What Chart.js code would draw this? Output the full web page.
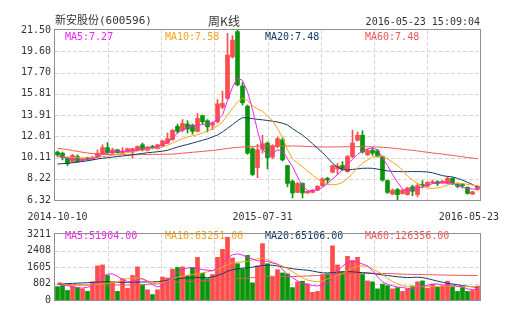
<!DOCTYPE html>
<html>
<head>
<meta charset="utf-8">
<title>新安股份 周K线</title>
<script src="https://cdn.jsdelivr.net/npm/chart.js@4.4.0/dist/chart.umd.min.js"></script>
<style>
  html, body { margin: 0; padding: 0; background: #fff; }
  #wrap { position: relative; width: 505px; height: 330px; overflow: hidden; }
  #kline { position: absolute; left: 0; top: 0; }
  #vol { position: absolute; left: 0; top: 224px; }
</style>
</head>
<body>
<div id="wrap">
  <canvas id="kline" width="505" height="224"></canvas>
  <canvas id="vol" width="505" height="106"></canvas>
</div>
<script>
// weekly candles, 2014-10-10 .. 2016-05-23
var opens = [10.6, 10.5, 10.1, 9.75, 10.2, 9.85, 10.1, 9.95, 10.15, 10.45,
  11.0, 10.5, 10.8, 10.5, 10.65, 10.6, 10.75, 11.25, 10.75, 11.1,
  10.9, 11.15, 11.4, 11.7, 12.9, 12.55, 13.1, 13.0, 12.45, 13.85,
  13.4, 13.0, 13.3, 14.6, 15.4, 19.1, 21.35, 16.5, 14.7, 10.9,
  9.2, 10.85, 11.4, 10.15, 11.1, 11.7, 9.4, 8.0, 7.0, 7.8,
  6.95, 7.0, 7.2, 7.6, 8.25, 8.8, 9.1, 9.4, 8.85, 10.2,
  11.65, 12.1, 10.35, 10.75, 10.7, 10.2, 8.05, 6.85, 7.25, 6.9,
  6.8, 7.5, 6.8, 7.7, 7.55, 7.85, 7.95, 7.85, 7.8, 8.25,
  7.7, 7.7, 7.45, 6.85, 7.27];
var highs = [10.7, 10.6, 10.15, 10.4, 10.35, 10.05, 10.15, 10.2, 10.8, 11.25,
  11.45, 10.95, 10.85, 11.0, 10.95, 10.95, 11.15, 11.4, 11.1, 11.2,
  11.3, 11.65, 12.3, 12.6, 13.1, 13.5, 13.4, 13.1, 14.05, 13.9,
  13.5, 13.3, 15.3, 16.05, 21.2, 21.0, 21.5, 16.8, 14.8, 11.0,
  11.3, 12.1, 11.5, 11.25, 11.95, 11.9, 9.4, 8.1, 7.9, 7.85,
  7.15, 7.25, 7.6, 8.3, 8.35, 9.45, 9.6, 9.75, 10.3, 12.55,
  12.4, 12.5, 10.85, 11.0, 10.85, 10.25, 8.1, 7.3, 7.35, 7.25,
  7.45, 7.65, 7.8, 8.05, 7.95, 8.1, 8.05, 8.05, 8.45, 8.3,
  7.85, 7.8, 7.5, 7.1, 7.6];
var lows = [10.2, 9.9, 9.4, 9.7, 9.7, 9.75, 9.85, 9.9, 10.1, 10.4,
  10.45, 10.45, 10.5, 10.45, 10.6, 10.05, 10.7, 10.7, 10.7, 10.9,
  10.85, 11.1, 11.35, 11.65, 12.3, 12.4, 12.3, 12.2, 12.4, 13.1,
  12.4, 12.6, 13.2, 14.45, 15.3, 19.0, 16.5, 14.8, 10.4, 8.5,
  8.3, 10.5, 9.1, 10.0, 11.0, 9.8, 7.5, 6.5, 6.95, 6.5,
  6.9, 6.95, 7.15, 7.55, 7.8, 8.75, 8.6, 8.95, 8.8, 10.1,
  11.6, 10.5, 10.3, 10.3, 10.15, 8.0, 6.9, 6.8, 6.32, 6.85,
  6.75, 6.7, 6.6, 7.4, 7.5, 7.8, 7.6, 7.8, 7.75, 7.7,
  7.4, 7.4, 6.85, 6.8, 7.2];
var closes = [10.35, 10.1, 9.55, 10.3, 9.75, 10.0, 9.95, 10.15, 10.5, 11.0,
  10.55, 10.8, 10.55, 10.65, 10.9, 10.9, 11.1, 10.8, 11.05, 11.0,
  11.25, 11.6, 11.8, 12.55, 12.45, 13.15, 12.65, 12.45, 13.6, 13.3,
  12.85, 13.2, 14.9, 14.95, 19.27, 20.6, 16.6, 15.0, 10.5, 8.6,
  10.8, 11.35, 10.1, 11.15, 11.8, 9.9, 7.8, 6.95, 7.8, 6.95,
  7.1, 7.2, 7.55, 8.2, 8.1, 9.38, 9.35, 9.05, 10.2, 11.4,
  12.1, 10.6, 10.75, 10.5, 10.2, 8.1, 7.0, 7.2, 6.8, 7.2,
  7.4, 7.1, 7.6, 7.6, 7.9, 7.95, 7.8, 8.0, 8.25, 7.75,
  7.55, 7.6, 6.9, 7.05, 7.55];

var ma5 = [10.25, 10.20, 10.05, 9.95, 9.90, 9.88, 9.95, 10.00, 10.15, 10.40,
  10.55, 10.62, 10.65, 10.68, 10.70, 10.72, 10.80, 10.88, 10.92, 11.00,
  11.10, 11.25, 11.45, 11.85, 12.30, 12.60, 12.80, 12.90, 12.98, 13.05,
  13.10, 13.20, 13.50, 13.90, 15.20, 16.40, 17.20, 17.00, 16.00, 14.40,
  12.50, 10.90, 10.30, 10.50, 10.80, 10.70, 10.00, 9.30, 8.40, 7.60,
  7.15, 7.10, 7.25, 7.45, 7.80, 8.20, 8.60, 9.00, 9.50, 9.95,
  10.40, 10.70, 10.90, 10.95, 10.80, 10.10, 9.40, 8.60, 7.90, 7.30,
  7.15, 7.25, 7.35, 7.50, 7.65, 7.78, 7.82, 7.85, 7.88, 7.85,
  7.60, 7.45, 7.35, 7.30, 7.27];
var ma10 = [10.19, 10.17, 10.14, 10.12, 10.10, 10.08, 10.08, 10.10, 10.15, 10.20,
  10.25, 10.32, 10.40, 10.47, 10.55, 10.62, 10.70, 10.78, 10.84, 10.90,
  10.95, 11.05, 11.20, 11.40, 11.60, 11.80, 11.95, 12.05, 12.15, 12.30,
  12.50, 12.70, 12.95, 13.30, 13.90, 14.50, 15.10, 15.40, 15.20, 14.75,
  14.45, 14.25, 13.80, 13.40, 12.70, 11.90, 10.80, 10.00, 9.60, 9.30,
  8.90, 8.55, 8.20, 7.90, 7.70, 7.68, 7.72, 7.90, 8.25, 8.70,
  9.20, 9.60, 9.90, 10.15, 10.25, 10.20, 10.00, 9.70, 9.40, 9.00,
  8.45, 8.10, 7.80, 7.55, 7.38, 7.36, 7.40, 7.50, 7.65, 7.78,
  7.80, 7.78, 7.72, 7.65, 7.58];
var ma20 = [9.53, 9.57, 9.60, 9.65, 9.70, 9.76, 9.82, 9.90, 9.98, 10.05,
  10.10, 10.15, 10.20, 10.25, 10.30, 10.36, 10.42, 10.48, 10.54, 10.58,
  10.63, 10.68, 10.76, 10.90, 11.05, 11.17, 11.28, 11.40, 11.53, 11.65,
  11.78, 11.95, 12.12, 12.40, 12.72, 13.05, 13.40, 13.68, 13.65, 13.58,
  13.52, 13.48, 13.42, 13.36, 13.28, 13.18, 13.02, 12.70, 12.40, 12.12,
  11.75, 11.35, 10.95, 10.55, 10.10, 9.60, 9.25, 9.05, 9.00, 9.05,
  9.10, 9.15, 9.16, 9.15, 9.08, 9.00, 8.92, 8.88, 8.86, 8.85,
  8.85, 8.86, 8.86, 8.85, 8.82, 8.75, 8.62, 8.50, 8.42, 8.38,
  8.25, 8.10, 7.90, 7.70, 7.48];
var ma60 = [10.94, 10.88, 10.82, 10.74, 10.66, 10.58, 10.52, 10.46, 10.42, 10.40,
  10.38, 10.37, 10.36, 10.36, 10.36, 10.36, 10.37, 10.38, 10.38, 10.39,
  10.40, 10.40, 10.41, 10.42, 10.45, 10.50, 10.54, 10.58, 10.62, 10.66,
  10.70, 10.75, 10.80, 10.86, 10.92, 10.98, 11.02, 11.05, 11.08, 11.10,
  11.12, 11.14, 11.14, 11.14, 11.14, 11.14, 11.14, 11.14, 11.14, 11.12,
  11.10, 11.08, 11.06, 11.05, 11.05, 11.06, 11.06, 11.07, 11.07, 11.08,
  11.08, 11.08, 11.08, 11.07, 11.05, 11.03, 11.00, 10.95, 10.90, 10.86,
  10.80, 10.76, 10.70, 10.64, 10.58, 10.52, 10.47, 10.42, 10.36, 10.30,
  10.24, 10.18, 10.12, 10.06, 10.00];

var volumes = [651, 698, 465, 682, 604, 543, 419, 884, 1660, 1706,
  1194, 884, 419, 1039, 574, 1194, 1613, 729, 496, 264,
  496, 1116, 1070, 1504, 1581, 1613, 1194, 1581, 2077, 1302,
  1039, 1240, 2077, 2464, 3050, 2046, 1767, 1504, 2170, 837,
  1660, 2743, 1767, 1116, 1473, 1318, 1271, 604, 884, 915,
  775, 372, 419, 1240, 1271, 2635, 1706, 1380, 2124, 1922,
  2077, 1240, 930, 884, 543, 775, 698, 543, 604, 419,
  527, 682, 884, 930, 574, 775, 620, 682, 915, 651,
  419, 604, 419, 465, 682];
var volMa5 = [760, 730, 700, 640, 590, 580, 620, 680, 960, 1150,
  1260, 1270, 1150, 1000, 900, 880, 1000, 1040, 900, 760,
  640, 700, 920, 1150, 1350, 1480, 1560, 1580, 1520, 1480,
  1450, 1430, 1550, 1780, 2050, 2200, 2250, 2180, 2080, 2000,
  1900, 1900, 1880, 1800, 1740, 1500, 1250, 1080, 930, 800,
  780, 700, 680, 740, 810, 1110, 1400, 1650, 1820, 1890,
  1830, 1750, 1660, 1430, 1130, 875, 765, 690, 630, 610,
  560, 550, 620, 680, 720, 770, 780, 730, 730, 730,
  660, 640, 540, 510, 520];
var volMa10 = [880, 820, 720, 690, 690, 700, 720, 740, 760, 790,
  810, 850, 890, 960, 1040, 1060, 1070, 1020, 930, 870,
  810, 850, 920, 1010, 1110, 1160, 1200, 1240, 1270, 1320,
  1370, 1420, 1500, 1600, 1720, 1810, 1840, 1850, 1880, 1950,
  2000, 2040, 1950, 1850, 1750, 1650, 1520, 1380, 1220, 1080,
  970, 920, 890, 920, 1030, 1100, 1200, 1300, 1420, 1550,
  1650, 1660, 1630, 1520, 1380, 1250, 1050, 900, 780, 700,
  650, 640, 640, 645, 650, 655, 665, 675, 680, 680,
  670, 660, 655, 650, 650];
var volMa20 = [780, 790, 800, 810, 820, 830, 840, 860, 880, 880,
  880, 870, 865, 860, 860, 865, 870, 875, 880, 885,
  890, 920, 960, 1000, 1040, 1060, 1075, 1085, 1090, 1090,
  1090, 1120, 1190, 1280, 1400, 1470, 1520, 1550, 1560, 1600,
  1640, 1680, 1700, 1690, 1660, 1610, 1560, 1520, 1490, 1470,
  1450, 1410, 1360, 1320, 1320, 1330, 1350, 1370, 1380, 1370,
  1350, 1330, 1320, 1290, 1250, 1220, 1190, 1160, 1130, 1110,
  1090, 1100, 1110, 1090, 1040, 980, 920, 860, 810, 780,
  740, 700, 670, 640, 620];
var volMa60 = [760, 755, 750, 745, 740, 735, 732, 730, 730, 730,
  730, 730, 730, 730, 730, 730, 730, 740, 760, 780,
  800, 820, 840, 860, 880, 890, 900, 910, 920, 930,
  940, 955, 975, 1000, 1020, 1040, 1045, 1050, 1070, 1090,
  1110, 1130, 1160, 1160, 1150, 1140, 1130, 1140, 1150, 1160,
  1170, 1180, 1190, 1210, 1225, 1240, 1250, 1260, 1270, 1280,
  1290, 1295, 1300, 1300, 1295, 1290, 1285, 1280, 1270, 1260,
  1250, 1245, 1240, 1235, 1230, 1225, 1220, 1215, 1210, 1205,
  1200, 1200, 1195, 1195, 1195];

var priceTicks = [6.32, 8.22, 10.11, 12.01, 13.91, 15.81, 17.70, 19.60, 21.50];
var volTicks = [0, 802, 1605, 2408, 3211];
var dateLabels = ['2014-10-10', '2015-07-31', '2016-05-23'];
var dateIndex = [0, 41, 84];
var maText = ['MA5:7.27', 'MA10:7.58', 'MA20:7.48', 'MA60:7.48'];
var volMaText = ['MA5:51904.00', 'MA10:63251.00', 'MA20:65106.00', 'MA60:126356.00'];

var maColors = ['#ee22ee', '#f7a21b', '#113a66', '#f25555'];
var upColor = '#ff4d4d';
var downColor = '#0a950a';
var mono = '"DejaVu Sans Mono", monospace';

document.addEventListener('DOMContentLoaded', function() {
  var weeks = opens.map(function(o, i) { return 'w' + i; });
  var candleColors = opens.map(function(o, i) { return closes[i] >= o ? upColor : downColor; });

  function maLine(label, data, color) {
    return {
      type: 'line', label: label, data: data,
      borderColor: color, borderWidth: 1, pointRadius: 0,
      tension: 0, fill: false, order: 0
    };
  }

  // dashed grid, MA legend (under the marks) and the grey frame (over them)
  function panelPlugin(ticks, legend, legendY) {
    return {
      id: 'panel',
      beforeDatasetsDraw: function(chart) {
        var ctx = chart.ctx, a = chart.chartArea, ys = chart.scales.y;
        ctx.save();
        ctx.strokeStyle = '#d8d8d8';
        ctx.lineWidth = 1;
        ctx.setLineDash([4, 2]);
        ticks.slice(1, -1).forEach(function(v) {
          var py = Math.round(ys.getPixelForValue(v)) + 0.5;
          ctx.beginPath(); ctx.moveTo(a.left, py); ctx.lineTo(a.right, py); ctx.stroke();
        });
        var step = (a.right - a.left) / 8;
        for (var k = 1; k < 8; k++) {
          var px = Math.round(a.left + k * step) + 0.5;
          ctx.beginPath(); ctx.moveTo(px, a.top); ctx.lineTo(px, a.bottom); ctx.stroke();
        }
        ctx.setLineDash([]);
        ctx.font = '10px ' + mono;
        ctx.textBaseline = 'middle';
        ctx.textAlign = 'left';
        legend.forEach(function(t, i) {
          ctx.fillStyle = maColors[i];
          ctx.fillText(t, a.left + 10 + i * 100, legendY);
        });
        ctx.restore();
      },
      afterDatasetsDraw: function(chart) {
        var ctx = chart.ctx, a = chart.chartArea;
        ctx.save();
        ctx.strokeStyle = '#8f8f8f';
        ctx.lineWidth = 1;
        ctx.strokeRect(a.left - 0.5, a.top - 0.5, a.right - a.left + 1, a.bottom - a.top + 1);
        ctx.restore();
      }
    };
  }

  var headerPlugin = {
    id: 'header',
    afterDraw: function(chart) {
      var ctx = chart.ctx, xs = chart.scales.x;
      ctx.save();
      ctx.fillStyle = '#333';
      ctx.textBaseline = 'middle';
      ctx.textAlign = 'left';
      ctx.font = '11px "DejaVu Sans Mono", "Noto Sans CJK SC", monospace';
      ctx.fillText('新安股份(600596)', 55, 21);
      ctx.textAlign = 'center';
      ctx.font = '12px "Noto Sans CJK SC", sans-serif';
      ctx.fillText('周K线', 224, 21);
      ctx.textAlign = 'right';
      ctx.font = '10px ' + mono;
      ctx.fillText('2016-05-23 15:09:04', 480, 22);

      ctx.textAlign = 'center';
      dateLabels.forEach(function(t, i) {
        var w = ctx.measureText(t).width;
        var px = Math.min(xs.getPixelForValue(dateIndex[i]), chart.width - 6 - w / 2);
        ctx.fillText(t, px, 217);
      });
      ctx.restore();
    }
  };

  function yAxis(min, max, ticks, fmt) {
    return {
      type: 'linear', min: min, max: max,
      afterBuildTicks: function(s) {
        s.ticks = ticks.map(function(v) { return { value: v }; });
      },
      afterFit: function(s) { s.width = 55; },
      ticks: {
        autoSkip: false, padding: 4, color: '#333',
        font: { family: mono, size: 10 },
        callback: fmt
      },
      grid: { display: false, drawTicks: false },
      border: { display: false }
    };
  }

  var xAxis = { type: 'category', display: false, offset: true };

  new Chart(document.getElementById('kline'), {
    data: {
      labels: weeks,
      datasets: [
        maLine('MA5', ma5, maColors[0]),
        maLine('MA10', ma10, maColors[1]),
        maLine('MA20', ma20, maColors[2]),
        maLine('MA60', ma60, maColors[3]),
        {
          type: 'bar', label: 'shadow',
          data: lows.map(function(l, i) { return [l, highs[i]]; }),
          backgroundColor: candleColors, barThickness: 1, grouped: false, order: 2
        },
        {
          type: 'bar', label: 'body',
          data: opens.map(function(o, i) { return [o, closes[i]]; }),
          backgroundColor: candleColors, barThickness: 4, minBarLength: 1,
          grouped: false, order: 1
        }
      ]
    },
    options: {
      responsive: false,
      animation: false,
      events: [],
      layout: { padding: { left: 0, right: 25, top: 30, bottom: 24 } },
      plugins: { legend: { display: false }, tooltip: { enabled: false } },
      scales: {
        x: xAxis,
        y: yAxis(6.32, 21.50, priceTicks, function(v) { return Number(v).toFixed(2); })
      }
    },
    plugins: [panelPlugin(priceTicks, maText, 37), headerPlugin]
  });

  new Chart(document.getElementById('vol'), {
    data: {
      labels: weeks,
      datasets: [
        maLine('MA5', volMa5, maColors[0]),
        maLine('MA10', volMa10, maColors[1]),
        maLine('MA20', volMa20, maColors[2]),
        maLine('MA60', volMa60, maColors[3]),
        {
          type: 'bar', label: 'volume', data: volumes,
          backgroundColor: candleColors, barThickness: 4, order: 1
        }
      ]
    },
    options: {
      responsive: false,
      animation: false,
      events: [],
      layout: { padding: { left: 0, right: 25, top: 7, bottom: 30 } },
      plugins: { legend: { display: false }, tooltip: { enabled: false } },
      scales: {
        x: xAxis,
        y: yAxis(0, 3211, volTicks, function(v) { return String(v); })
      }
    },
    plugins: [panelPlugin(volTicks, volMaText, 12)]
  });
});
</script>
</body>
</html>
